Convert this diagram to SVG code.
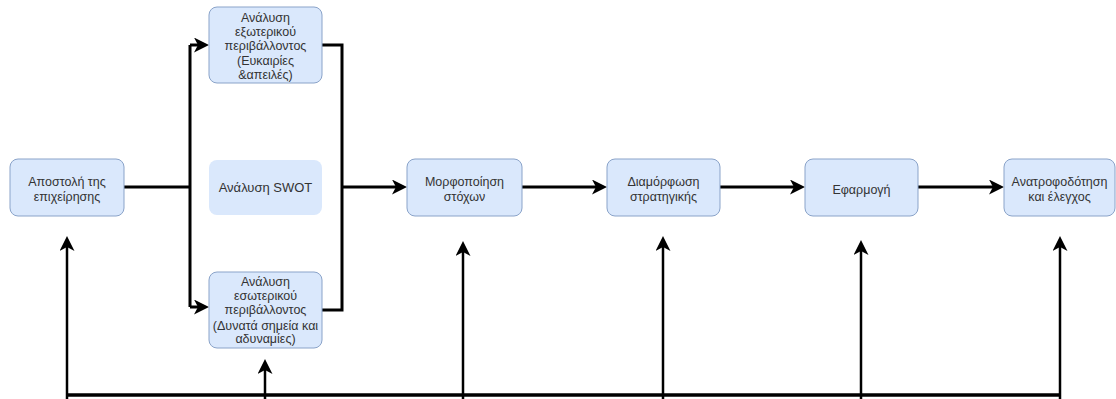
<svg xmlns="http://www.w3.org/2000/svg" width="1116" height="399" viewBox="0 0 1116 399">
<style>
.box{fill:#dae8fc;stroke:#8aa3c9;stroke-width:1}
.nob{fill:#dae8fc;stroke:none}
.t{font-family:"Liberation Sans",Arial,sans-serif;font-size:12.5px;fill:#333;text-anchor:middle}
.big{font-size:13px}
.c{fill:none;stroke:#000;stroke-width:3}
.v{fill:none;stroke:#000;stroke-width:2.5}
</style>
<defs>
<marker id="a" markerUnits="userSpaceOnUse" markerWidth="15" markerHeight="15" viewBox="0 0 15 15" refX="4" refY="7.5" orient="auto">
<path d="M0,0 L15,7.5 L0,15 L4,7.5 Z" fill="#000"/>
</marker>
</defs>
<rect width="1116" height="399" fill="#fff"/>
<g id="connectors">
<path class="c" d="M124,187 H190"/>
<path class="c" d="M190,45 V307"/>
<path class="c" d="M190,45 H198" marker-end="url(#a)"/>
<path class="c" d="M190,307 H198" marker-end="url(#a)"/>
<path class="c" d="M322,45 H342 V310 H322"/>
<path class="c" d="M342,187 H396" marker-end="url(#a)"/>
<path class="c" d="M522,187 H596" marker-end="url(#a)"/>
<path class="c" d="M720,187 H794" marker-end="url(#a)"/>
<path class="c" d="M918,187 H993" marker-end="url(#a)"/>
<path class="c" d="M66,395 H1061" style="stroke-width:3.5"/>
<path class="v" d="M67,399 V247" marker-end="url(#a)"/>
<path class="v" d="M265,399 V370" marker-end="url(#a)"/>
<path class="v" d="M463,399 V252" marker-end="url(#a)"/>
<path class="v" d="M663,399 V247" marker-end="url(#a)"/>
<path class="v" d="M861,399 V251" marker-end="url(#a)"/>
<path class="v" d="M1060,399 V247" marker-end="url(#a)"/>
</g>
<g id="n1"><rect class="box" x="10" y="159" width="114" height="57" rx="8"/>
<text class="t" x="67" y="186">Αποστολή της</text><text class="t" x="67" y="201">επιχείρησης</text></g>
<g id="n2"><rect class="box" x="209" y="7" width="113" height="76" rx="8"/>
<text class="t" x="265.5" y="22">Ανάλυση</text><text class="t" x="265.5" y="36">εξωτερικού</text><text class="t" x="265.5" y="50">περιβάλλοντος</text><text class="t" x="265.5" y="65">(Ευκαιρίες</text><text class="t" x="265.5" y="79">&amp;απειλές)</text></g>
<g id="n3"><rect class="nob" x="209" y="160" width="113" height="55" rx="8"/>
<text class="t big" x="265.5" y="192">Ανάλυση SWOT</text></g>
<g id="n4"><rect class="box" x="209" y="272" width="113" height="76" rx="8"/>
<text class="t" x="265.5" y="286">Ανάλυση</text><text class="t" x="265.5" y="300">εσωτερικού</text><text class="t" x="265.5" y="314">περιβάλλοντος</text><text class="t" x="265.5" y="330">(Δυνατά σημεία και</text><text class="t" x="265.5" y="343">αδυναμίες)</text></g>
<g id="n5"><rect class="box" x="407" y="159" width="115" height="57" rx="8"/>
<text class="t" x="464.5" y="186">Μορφοποίηση</text><text class="t" x="464.5" y="201">στόχων</text></g>
<g id="n6"><rect class="box" x="607" y="159" width="113" height="57" rx="8"/>
<text class="t" x="663.5" y="186">Διαμόρφωση</text><text class="t" x="663.5" y="201">στρατηγικής</text></g>
<g id="n7"><rect class="box" x="805" y="159" width="113" height="57" rx="8"/>
<text class="t" x="861.5" y="194">Εφαρμογή</text></g>
<g id="n8"><rect class="box" x="1004" y="159" width="111" height="57" rx="8"/>
<text class="t" x="1059.5" y="186">Ανατροφοδότηση</text><text class="t" x="1059.5" y="201">και έλεγχος</text></g>
</svg>
